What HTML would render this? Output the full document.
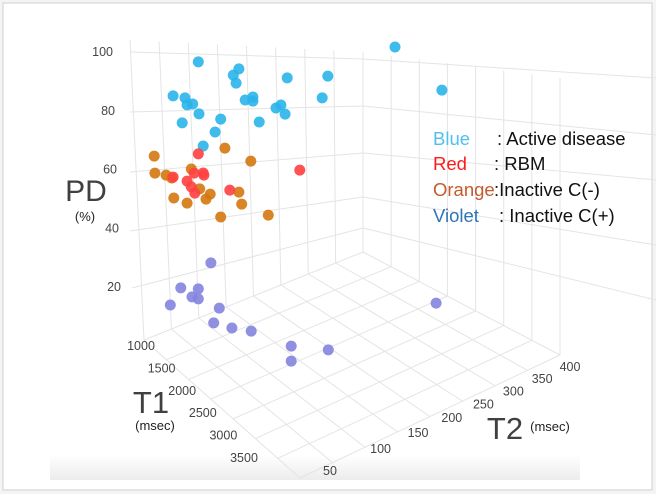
<!DOCTYPE html>
<html><head><meta charset="utf-8"><style>
html,body{margin:0;padding:0;background:#fff;}
#wrap{position:relative;width:656px;height:494px;overflow:hidden;background:#f4f4f4;}
svg{position:absolute;left:0;top:0;}
text{font-family:"Liberation Sans",sans-serif;}
</style></head><body>
<div id="wrap">
<svg id="chart" width="656" height="494">
<defs><linearGradient id="gb" x1="0" y1="0" x2="0" y2="1"><stop offset="0" stop-color="#fff"/><stop offset="1" stop-color="#ececec"/></linearGradient></defs>
<rect x="3" y="3" width="649" height="487" fill="#fff" stroke="#cfcfcf"/>
<rect x="50" y="455" width="530" height="25" fill="url(#gb)"/>
<g id="grid"></g>
<g id="ticks"></g>
<g id="pts"></g>
<text x="86" y="201" font-size="30" fill="#404040" text-anchor="middle">PD</text>
<text x="85" y="221" font-size="13" fill="#222" text-anchor="middle">(%)</text>
<text x="151" y="413" font-size="31" fill="#404040" text-anchor="middle">T1</text>
<text x="155" y="430" font-size="13" fill="#222" text-anchor="middle">(msec)</text>
<text x="505" y="439" font-size="31" fill="#404040" text-anchor="middle">T2</text>
<text x="550" y="431" font-size="13" fill="#222" text-anchor="middle">(msec)</text>
<g font-size="18.5">
<text x="433" y="145" fill="#4fc0f0">Blue</text>
<text x="497" y="145" fill="#111">:  Active disease</text>
<text x="433" y="170" fill="#ff1a1a">Red</text>
<text x="494" y="170" fill="#111">: RBM</text>
<text x="433" y="196" fill="#c55a2d">Orange</text>
<text x="494" y="196" fill="#111">:Inactive C(-)</text>
<text x="433" y="222" fill="#2e75b6">Violet</text>
<text x="499" y="222" fill="#111">: Inactive C(+)</text>
</g>
</svg>
</div>
<script>
// Data: [T1 (msec), T2 (msec), PD (%)]
const blueT1=[1500,1500,1500,1500,1500,1500,1500,1500,1500,1500,1500,1500,1500,1500,1500,1500,1500,1500,1500,1500,1500,1500,1500,1500,1500];
const blueT2=[69,127,119,123,196,254,350,417,33,50,53,61,70,46,101,93,136,147,147,156,180,187,193,246,76];
const bluePD=[96.9,88.6,87.3,84.2,78.5,73.2,73.3,51.8,89,86.6,83.9,83.4,79.1,78.5,74.2,70.6,77.1,77,75.6,67.6,69.9,70.2,66.5,66.6,67.6];
const redT1=[1500,1500,1500,1500,1500,1500,1500,1500,1500,1500];
const redT2=[69,33,63,76,77,53,59,64,114,214];
const redPD=[65.6,61.4,59.7,58.4,57.6,58,55.4,52.8,48.7,45.3];
const orangeT1=[1500,1500,1500,1500,1500,1500,1500,1500,1500,1500,1500,1500,1500,1500,1500,1500];
const orangeT2=[6,7,23,31,59,71,86,80,34,53,107,144,127,131,101,169];
const orangePD=[71.3,65.4,63.1,61.3,61.5,53.5,50.2,49.1,54.2,50.5,63.7,55.5,46.7,42.2,40.9,34.6];
const violetT1=[1500,1500,1500,1500,1500,1500,1500,1500,1500,2000,3000,3000,3000,3000];
const violetT2=[87,44,69,60,69,29,99,91,117,116,116,169,116,323];
const violetPD=[26.7,22.6,19.7,17.9,16.3,18.3,10.1,5.9,1.5,8.2,18.4,11.7,13.3,11.9];
const pdTicks=[20,40,60,80,100];
const t1Ticks=[1000,1500,2000,2500,3000,3500];
const t2Ticks=[50,100,150,200,250,300,350,400];

const NS="http://www.w3.org/2000/svg";
function proj(t1,t2,pd){return [130+0.04*(t1-1000)+0.7*t2, 345+0.045*(t1-1000)-0.3*t2-2.94*pd];}
function pdLab(v){return [113+(100-v)*0.1, 52+(100-v)*2.94];}
function t1Lab(v){return [141+(v-1000)*0.0412, 346+(v-1000)*0.0448];}
function t2Lab(v){const f=Math.pow((v-50)/350,0.8);return [330+240*f, 471-104*f];}

function mk(tag,attrs,parent){const e=document.createElementNS(NS,tag);for(const k in attrs)e.setAttribute(k,attrs[k]);parent.appendChild(e);return e;}

const grid=document.getElementById('grid');
function line(a,b){const l=mk('line',{x1:a[0],y1:a[1],x2:b[0],y2:b[1],stroke:'#e4e4e4','stroke-width':1},grid);

}
function lerp(a,b,t){return [a[0]+(b[0]-a[0])*t,a[1]+(b[1]-a[1])*t];}
const A=[144,340],B=[363,252],C=[560,355],D=[300,478];
for(let i=0;i<=7;i++){const t=i/7;line(lerp(A,D,t),lerp(B,C,t));}
for(let i=0;i<=8;i++){const t=i/8;line(lerp(A,B,t),lerp(D,C,t));}
const TL=[130,40],TR=[363,52];
for(let i=0;i<=8;i++){const t=i/8;line(lerp(A,B,t),lerp(TL,TR,t));}
const bwL=[[130,52],[130,112],[130,172],[130,231],[132,288]],bwR=[[363,59],[363,106],[363,153],[363,197],[363,228]];
for(let i=0;i<5;i++)line(bwL[i],bwR[i]);
const RT=[656,78];
for(let i=0;i<=7;i++){const t=i/7;const b=lerp(B,C,t);line(b,[b[0],lerp(TR,RT,t)[1]]);}
const rwR=[[656,78],[656,135],[656,180],[656,245],[656,300]];
for(let i=0;i<5;i++)line(bwR[i],rwR[i]);

const tk=document.getElementById('ticks');
function lab(p,s,anchor){const t=mk('text',{x:p[0],y:p[1]+4,'font-size':12.5,fill:'#444','text-anchor':anchor},tk);t.textContent=s;

}
pdTicks.forEach(v=>lab(pdLab(v),String(v),'end'));
t1Ticks.forEach(v=>lab(t1Lab(v),String(v),'middle'));
t2Ticks.forEach(v=>lab(t2Lab(v),String(v),'middle'));

const pg=document.getElementById('pts');
function series(T1,T2,PD,color,name){T1.forEach((t1,i)=>{const p=proj(t1,T2[i],PD[i]);
const c=mk('circle',{cx:p[0].toFixed(1),cy:p[1].toFixed(1),r:5.5,fill:color,'fill-opacity':0.9},pg);

});}
series(violetT1,violetT2,violetPD,'#8484e0','violet');
series(orangeT1,orangeT2,orangePD,'#d4780f','orange');
series(blueT1,blueT2,bluePD,'#2ab4ea','blue');
series(redT1,redT2,redPD,'#ff4040','red');
</script>
</body></html>
